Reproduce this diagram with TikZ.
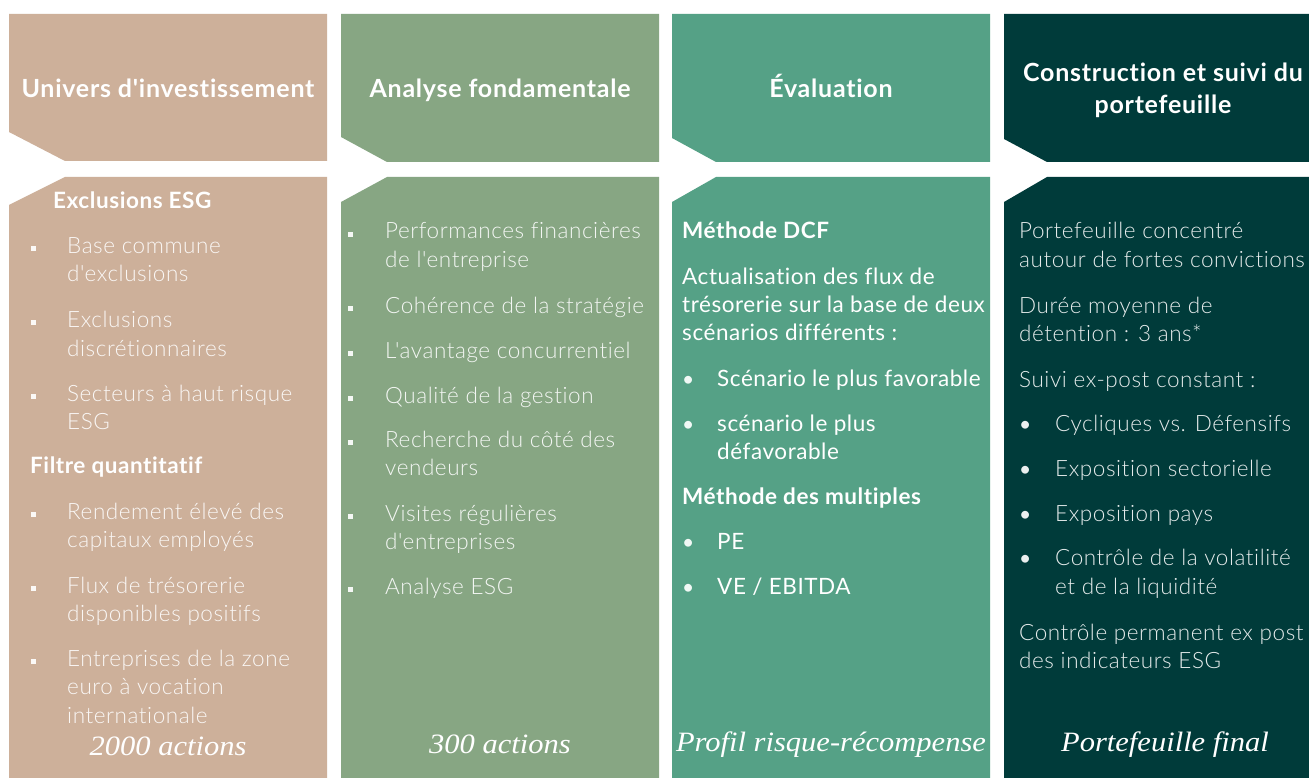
\documentclass[tikz,border=0pt]{standalone}
\usepackage{graphicx}
\usepackage{fontspec}
\setmainfont{Lato}[Ligatures={TeXOff,NoCommon}, LetterSpace=2.5]
\newfontfamily\hdrfont{Lato}[Ligatures={TeXOff,NoCommon}, LetterSpace=3]
\newfontfamily\lightfont{Lato Light}[Ligatures={TeXOff,NoCommon}, LetterSpace=2.5]
\newfontfamily\serifit{Liberation Serif}
\definecolor{cA}{RGB}{205,176,154}
\definecolor{cB}{RGB}{135,166,131}
\definecolor{cC}{RGB}{85,161,134}
\definecolor{cD}{RGB}{0,59,58}
\tikzset{
  hdr/.style={font=\hdrfont\bfseries\fontsize{25}{32}\selectfont, text=white, inner sep=0, align=center},
  lt/.style={font=\lightfont\fontsize{22.5}{28}\selectfont, text=white!90!#1, anchor=base west, inner sep=0},
  bd/.style={font=\bfseries\fontsize{22.5}{28}\selectfont, text=white, anchor=base west, inner sep=0},
  rg/.style={font=\fontsize{22.5}{28}\selectfont, text=white, anchor=base west, inner sep=0},
  sqb/.style={fill=white!92!#1, draw=none, rectangle, minimum size=5pt, inner sep=0},
  rb/.style={font=\fontsize{21}{28}\selectfont, text=white!92!#1, anchor=base west, inner sep=0},
  itl/.style={font=\serifit\itshape\fontsize{28}{32}\selectfont, text=white, anchor=base, inner sep=0},
}
\newcommand\wideit[1]{\scalebox{1.09}[1]{#1}}
\begin{document}
\begin{tikzpicture}[x=1pt,y=-1pt]
\useasboundingbox (0,0) rectangle (1309,778);
\fill[white] (0,0) rectangle (1309,778);
% column shapes
\fill[cA] (9,14) -- (327,14) -- (327,161) -- (65,161) -- (9,132) -- cycle;
\fill[cA] (65,177) -- (327,177) -- (327,778) -- (9,778) -- (9,205) -- cycle;
\fill[cB] (341,14) -- (659,14) -- (659,162) -- (387,162) -- (341,137) -- cycle;
\fill[cB] (387,177) -- (659,177) -- (659,778) -- (341,778) -- (341,202) -- cycle;
\fill[cC] (672,14) -- (990,14) -- (990,162) -- (716,162) -- (672,138) -- cycle;
\fill[cC] (716,177) -- (990,177) -- (990,778) -- (672,778) -- (672,202) -- cycle;
\fill[cD] (1004,14) -- (1309,14) -- (1309,162) -- (1047,162) -- (1004,139) -- cycle;
\fill[cD] (1047,177) -- (1309,177) -- (1309,778) -- (1004,778) -- (1004,202) -- cycle;
% headers
\node[hdr, anchor=base] (h1) at (168,98) {Univers d'investissement};
\node[hdr, anchor=base] (h2) at (500,98) {Analyse fondamentale};
\node[hdr, anchor=base] (h3) at (831,98) {Évaluation};
\node[hdr] (h4) at (1163,90) {Construction et suivi du\\portefeuille};
% column 1
\node[bd] (a0) at (53,208) {Exclusions ESG};
\node[sqb=cA] (ab1) at (33,248.5) {};
\node[lt=cA] (a1) at (67,253) {Base commune};
\node[lt=cA] (a1b) at (67,281) {d'exclusions};
\node[sqb=cA] (ab2) at (33,322.5) {};
\node[lt=cA] (a2) at (67,327) {Exclusions};
\node[lt=cA] (a2b) at (67,356) {discrétionnaires};
\node[sqb=cA] (ab3) at (33,396.5) {};
\node[lt=cA] (a3) at (67,401) {Secteurs à haut risque};
\node[lt=cA] (a3b) at (67,429) {ESG};
\node[bd] (af) at (30,473) {Filtre quantitatif};
\node[sqb=cA] (ab4) at (33,514.5) {};
\node[lt=cA] (a4) at (67,519) {Rendement élevé des};
\node[lt=cA] (a4b) at (67,547) {capitaux employés};
\node[sqb=cA] (ab5) at (33,588.5) {};
\node[lt=cA] (a5) at (67,593) {Flux de trésorerie};
\node[lt=cA] (a5b) at (67,621) {disponibles positifs};
\node[sqb=cA] (ab6) at (33,661.5) {};
\node[lt=cA] (a6) at (67,666) {Entreprises de la zone};
\node[lt=cA] (a6b) at (67,694) {euro à vocation};
\node[lt=cA] (a6c) at (67,723) {internationale};
\node[itl] (af1) at (168,755) {\wideit{2000 actions}};
% column 2
\node[sqb=cB] (bb1) at (350,234.5) {};
\node[lt=cB] (b1) at (385,239) {Performances financières};
\node[lt=cB] (b1b) at (385,267) {de l'entreprise};
\node[sqb=cB] (bb2) at (350,308.5) {};
\node[lt=cB] (b2) at (385,313) {Cohérence de la stratégie};
\node[sqb=cB] (bb3) at (350,353.5) {};
\node[lt=cB] (b3) at (385,358) {L'avantage concurrentiel};
\node[sqb=cB] (bb4) at (350,398.5) {};
\node[lt=cB] (b4) at (385,403) {Qualité de la gestion};
\node[sqb=cB] (bb5) at (350,442.5) {};
\node[lt=cB] (b5) at (385,447) {Recherche du côté des};
\node[lt=cB] (b5b) at (385,475) {vendeurs};
\node[sqb=cB] (bb6) at (350,516.5) {};
\node[lt=cB] (b6) at (385,521) {Visites régulières};
\node[lt=cB] (b6b) at (385,549) {d'entreprises};
\node[sqb=cB] (bb7) at (350,589.5) {};
\node[lt=cB] (b7) at (385,594) {Analyse ESG};
\node[itl] (bf1) at (500,753) {\wideit{300 actions}};
% column 3
\node[bd] (c0) at (682,239) {Méthode DCF};
\node[rg] (c1) at (682,284) {Actualisation des flux de};
\node[rg] (c1b) at (682,312) {trésorerie sur la base de deux};
\node[rg] (c1c) at (682,340) {scénarios différents :};
\node[rb=cC] (cb1) at (682,386) {•};
\node[rg] (c2) at (717,386) {Scénario le plus favorable};
\node[rb=cC] (cb2) at (682,431) {•};
\node[rg] (c3) at (717,431) {scénario le plus};
\node[rg] (c3b) at (717,459) {défavorable};
\node[bd] (c4) at (682,504) {Méthode des multiples};
\node[rb=cC] (cb3) at (682,549) {•};
\node[rg] (c5) at (717,549) {PE};
\node[rb=cC] (cb4) at (682,594) {•};
\node[rg] (c6) at (717,594) {VE / EBITDA};
\node[itl] (cf1) at (831,751) {\wideit{Profil risque-récompense}};
% column 4
\node[lt=cD] (d1) at (1019,239) {Portefeuille concentré};
\node[lt=cD] (d1b) at (1019,267) {autour de fortes convictions};
\node[lt=cD] (d2) at (1019,313) {Durée moyenne de};
\node[lt=cD] (d2b) at (1019,341) {détention : 3 ans*};
\node[lt=cD] (d3) at (1019,387) {Suivi ex-post constant :};
\node[rb=cD] (db1) at (1019,431) {•};
\node[lt=cD] (d4) at (1055,431) {Cycliques vs. Défensifs};
\node[rb=cD] (db2) at (1019,476) {•};
\node[lt=cD] (d5) at (1055,476) {Exposition sectorielle};
\node[rb=cD] (db3) at (1019,521) {•};
\node[lt=cD] (d6) at (1055,521) {Exposition pays};
\node[rb=cD] (db4) at (1019,565) {•};
\node[lt=cD] (d7) at (1055,565) {Contrôle de la volatilité};
\node[lt=cD] (d7b) at (1055,594) {et de la liquidité};
\node[lt=cD] (d8) at (1019,640) {Contrôle permanent ex post};
\node[lt=cD] (d8b) at (1019,668) {des indicateurs ESG};
\node[itl] (df1) at (1165,751) {\wideit{Portefeuille final}};
\end{tikzpicture}
\end{document}
